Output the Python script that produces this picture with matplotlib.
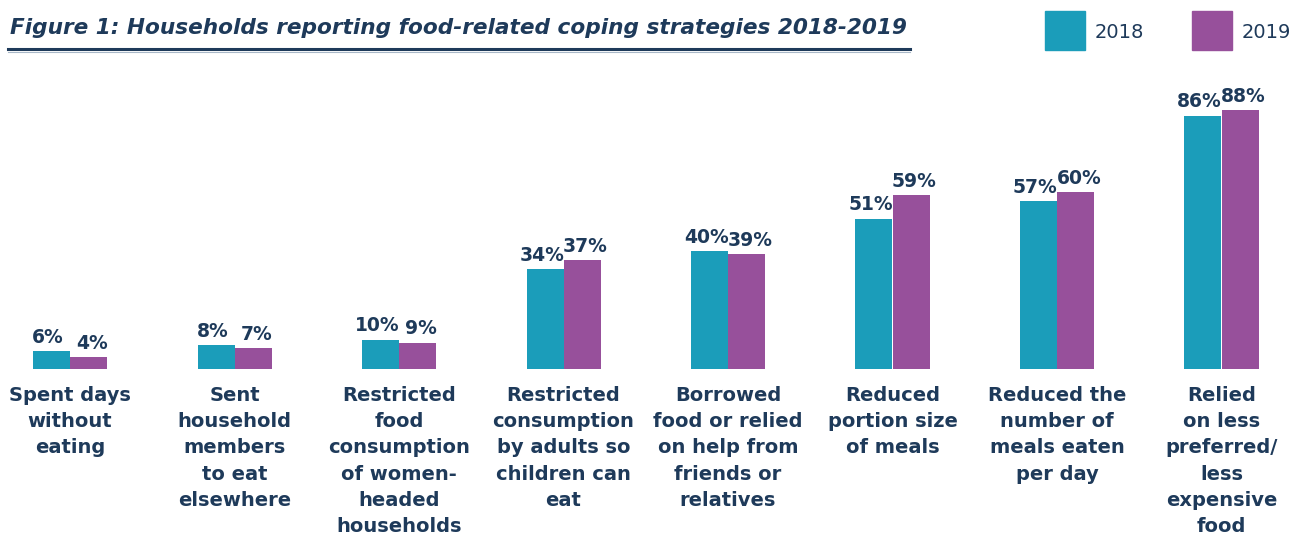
import matplotlib.pyplot as plt
from matplotlib.patches import Rectangle
from matplotlib.lines import Line2D

# DATA
categorias = [
    "Spent days\nwithout\neating",
    "Sent\nhousehold\nmembers\nto eat\nelsewhere",
    "Restricted\nfood\nconsumption\nof women-\nheaded\nhouseholds",
    "Restricted\nconsumption\nby adults so\nchildren can\neat",
    "Borrowed\nfood or relied\non help from\nfriends or\nrelatives",
    "Reduced\nportion size\nof meals",
    "Reduced the\nnumber of\nmeals eaten\nper day",
    "Relied\non less\npreferred/\nless\nexpensive\nfood",
]
valores_2018 = [6, 8, 10, 34, 40, 51, 57, 86]
valores_2019 = [4, 7, 9, 37, 39, 59, 60, 88]
series = ["2018", "2019"]

azul = "#1b9dba"
morado = "#97509b"
texto = "#1e3a5a"
fuente = "DejaVu Sans"

fig = plt.figure(figsize=(13.02, 5.39), dpi=100)

# EJES
W, H = 1302, 539
base_px, top_px = 369, 74.7
ax = fig.add_axes([0, (H - base_px) / H, 1, (base_px - top_px) / H])
paso = 164.5
ax.set_xlim(-70 / paso, (W - 70) / paso)
ax.set_ylim(0, 100)
ax.axis("off")

ancho = 37 / paso
x = list(range(len(categorias)))
x1 = [i - ancho / 2 for i in x]
x2 = [i + ancho / 2 for i in x]
ax.bar(x1, valores_2018, width=ancho, color=azul)
ax.bar(x2, valores_2019, width=ancho, color=morado)

# ETIQUETAS DE VALOR
for xi, v in zip(x1, valores_2018):
    ax.text(xi - 0.02, v + 1.5, f"{v}%", ha="center", va="bottom", fontsize=13.5,
            fontweight="bold", color=texto, family=fuente)
for xi, v in zip(x2, valores_2019):
    ax.text(xi + 0.02, v + 1.5, f"{v}%", ha="center", va="bottom", fontsize=13.5,
            fontweight="bold", color=texto, family=fuente)

# CATEGORIAS
for xi, c in zip(x, categorias):
    ax.text(xi, -5.8, c, ha="center", va="top", fontsize=14, fontweight="bold",
            color=texto, family=fuente, linespacing=1.48, clip_on=False)

# TITULO
fig.text(10 / W, 1 - 28 / H, "Figure 1: Households reporting food-related coping strategies 2018-2019",
         ha="left", va="center", fontsize=15.6, fontweight="bold", style="italic",
         color=texto, family=fuente)
fig.add_artist(Line2D([8 / W, 910 / W], [1 - 49 / H, 1 - 49 / H], color=texto, lw=2.2))
fig.add_artist(Line2D([8 / W, 910 / W], [1 - 51.5 / H, 1 - 51.5 / H], color="#a9b8c8", lw=0.8))

# LEYENDA
for px, col, lab in [(1045, azul, series[0]), (1192, morado, series[1])]:
    fig.add_artist(Rectangle((px / W, 1 - 50 / H), 40 / W, 39 / H, color=col,
                             transform=fig.transFigure))
    fig.text((px + 50) / W, 1 - 32 / H, lab, ha="left", va="center", fontsize=14,
             color=texto, family=fuente)

fig.savefig("out.png", dpi=100)
